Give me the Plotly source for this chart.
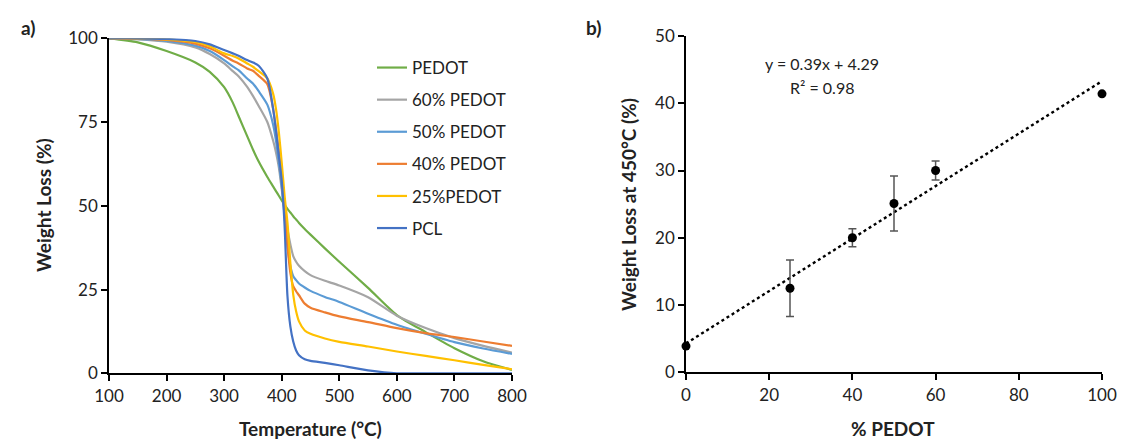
import plotly.graph_objects as go

# ---- Panel a) TGA curves ----
temperature = [100,150,200,250,275,300,315,325,340,350,360,375,385,390,395,400,405,410,415,420,425,430,440,450,475,500,550,600,650,700,750,800]
pedot      = [100,98.8,96.2,92.8,90.0,85.4,80.8,76.8,70.8,66.8,63.2,58.6,55.8,54.4,53,51.6,50.3,49.1,48,46.9,45.9,44.9,43.1,41.4,37.3,33.3,25.5,17.4,12.3,7.5,3.6,1.0]
pedot60    = [100,99.7,99.0,97.3,95.3,92.5,90.2,88.7,85.5,82.8,79.8,75.0,69.5,66,61.5,55,48.5,43,38.5,35,33.3,32.1,30.5,29.3,27.6,26.2,22.7,17.2,13.5,10.5,8.2,6.2]
pedot50    = [100,99.8,99.2,97.8,96.2,93.5,91.6,90.5,88,86.5,84.2,80.2,74.3,69.5,63,56,47,38,32,29,27.8,26.8,25.6,24.6,22.8,21.3,17.8,14.5,11.8,9.3,7.4,5.8]
pedot40    = [100,99.9,99.5,98.4,97,94.8,93.3,92.5,91,90.3,88.8,86.3,79,73,66,58,48,38,30,26,24.5,23.3,20.8,19.6,18.2,17.0,15.3,13.5,12,10.8,9.5,8.2]
pedot25    = [100,100,99.7,98.9,97.6,95.5,94.7,94,92.5,91.5,90.2,88,83.5,79,72,63,53,45,33,23.5,18.5,15.5,12.8,11.8,10.4,9.4,8.0,6.5,5.2,3.9,2.5,1.2]
pcl        = [100,100,99.8,99.2,98.2,96.5,95.5,94.8,93.5,92.8,91.8,88,79,72.5,65,57.5,44,23,14,9.5,6.8,5.4,4.2,3.7,3.1,2.4,0.9,0,0,0,0,0]

series_names = ["PEDOT", "60% PEDOT", "50% PEDOT", "40% PEDOT", "25%PEDOT", "PCL"]
series_vals = [pedot, pedot60, pedot50, pedot40, pedot25, pcl]
series_colors = ["#70AD47", "#A5A5A5", "#5B9BD5", "#ED7D31", "#FFC000", "#4472C4"]

# ---- Panel b) weight loss at 450 C ----
pct_pedot = [0, 25, 40, 50, 60, 100]
loss_450 = [3.9, 12.5, 20.0, 25.1, 30.0, 41.4]
loss_err = [0, 4.2, 1.35, 4.1, 1.4, 0]
slope, intercept = 0.39, 4.29
fit_x = [0, 100]
eq_text = "y = 0.39x + 4.29"
r2_text = "R² = 0.98"

W, H = 1123, 443
FONT = "Lato, 'Open Sans', sans-serif"
TXT = "#222222"

def px(x):
    return x / W

def py(y):
    return 1 - y / H

fig = go.Figure()

for name, vals, col in zip(series_names, series_vals, series_colors):
    fig.add_trace(go.Scatter(
        x=temperature, y=vals, mode="lines", name=name,
        line=dict(color=col, width=2.2, shape="spline", smoothing=0.7),
        legendgroup=name, xaxis="x", yaxis="y"))

fig.add_trace(go.Scatter(
    x=fit_x, y=[slope * v + intercept for v in fit_x], mode="lines",
    line=dict(color="black", width=2.4, dash="dot"),
    showlegend=False, xaxis="x2", yaxis="y2"))

fig.add_trace(go.Scatter(
    x=pct_pedot, y=loss_450, mode="markers",
    marker=dict(color="black", size=9),
    error_y=dict(type="data", array=loss_err, visible=True, color="#555555", thickness=1.5, width=4),
    cliponaxis=False,
    showlegend=False, xaxis="x2", yaxis="y2"))

axis_common = dict(showgrid=False, zeroline=False, showline=True, linecolor="black", linewidth=1.6,
                   ticks="outside", ticklen=6, tickcolor="black", tickwidth=1.6, automargin=False,
                   tickfont=dict(family=FONT, size=17, color=TXT))

fig.update_layout(
    width=W, height=H,
    margin=dict(l=0, r=0, t=0, b=0, autoexpand=False),
    paper_bgcolor="white", plot_bgcolor="white",
    font=dict(family=FONT, color=TXT),
    xaxis=dict(domain=[px(109), px(512)], range=[100, 800], dtick=100, tick0=100, anchor="y", **axis_common),
    yaxis=dict(domain=[py(373.3), py(38.3)], range=[0, 100], dtick=25, anchor="x", **axis_common),
    xaxis2=dict(domain=[px(686), px(1102)], range=[0, 100], dtick=20, anchor="y2", **axis_common),
    yaxis2=dict(domain=[py(372.3), py(36)], range=[0, 50], dtick=10, anchor="x2", **axis_common),
    legend=dict(x=px(372), y=py(50), xanchor="left", yanchor="top",
                font=dict(family=FONT, size=17, color=TXT),
                tracegroupgap=7, itemwidth=30, bgcolor="rgba(0,0,0,0)"),
    showlegend=True,
)

ann = [
    dict(text="<b>a)</b>", x=px(28), y=py(28), size=19),
    dict(text="<b>b)</b>", x=px(593), y=py(28), size=19),
    dict(text="<b>Weight Loss (%)</b>", x=px(43), y=py(205), size=19, angle=-90),
    dict(text="<b>Temperature (°C)</b>", x=px(310), y=py(428), size=19),
    dict(text="<b>Weight Loss at 450°C (%)</b>", x=px(628), y=py(205), size=19, angle=-90),
    dict(text="<b>% PEDOT</b>", x=px(893), y=py(428), size=19),
    dict(text=eq_text, x=px(822), y=py(64), size=16),
    dict(text=r2_text, x=px(822), y=py(88), size=16),
]
for a in ann:
    fig.add_annotation(text=a["text"], x=a["x"], y=a["y"], xref="paper", yref="paper",
                       showarrow=False, xanchor="center", yanchor="middle",
                       textangle=a.get("angle", 0),
                       font=dict(family=FONT, size=a["size"], color=TXT))

fig.write_html("out.html", config={"displayModeBar": False},
               post_script="document.body.style.margin='0px';document.body.style.overflow='hidden';")
